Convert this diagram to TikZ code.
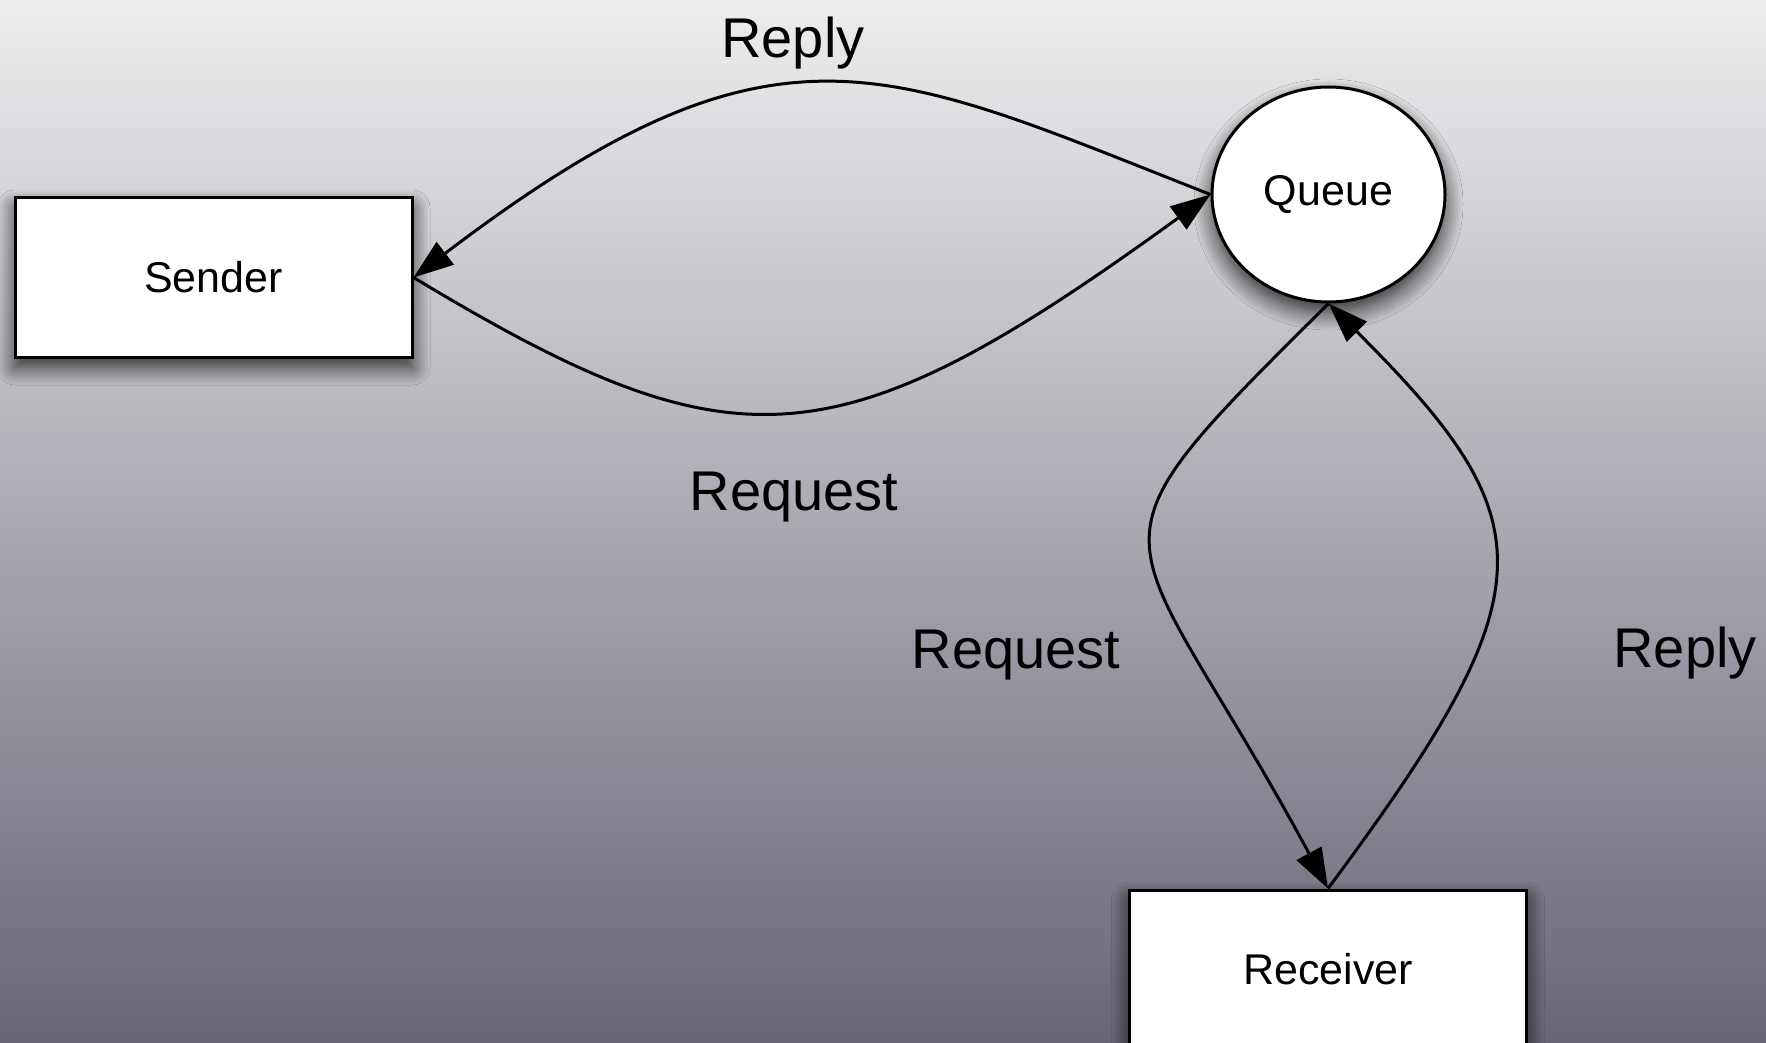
\documentclass[tikz,border=0pt]{standalone}
\usepackage{fontspec}
\setmainfont{Liberation Sans}
\usetikzlibrary{arrows.meta,shapes.geometric,shadows.blur}
\definecolor{bgtop}{RGB}{237,237,239}
\definecolor{bgbot}{RGB}{103,102,117}
\tikzset{
  nshadow/.style={blur shadow={shadow xshift=0pt, shadow yshift=-5pt, shadow blur radius=9pt, shadow blur steps=12, shadow opacity=80}},
  boxnode/.style={draw=black, line width=1.5pt, fill=white, rectangle,
    minimum width=198.5pt, minimum height=79.5pt, inner sep=0pt,
    font=\fontsize{21.5}{24}\selectfont, nshadow},
  qnode/.style={draw=black, line width=1.5pt, fill=white, ellipse,
    minimum width=116.5pt, minimum height=107.5pt, inner sep=0pt,
    font=\fontsize{21.5}{24}\selectfont, nshadow},
  lbl/.style={anchor=base, inner sep=0pt, font=\fontsize{28}{32}\selectfont},
  flow/.style={line width=1.5pt, -{Triangle[length=20pt,width=14pt]}},
}
\begin{document}
\begin{tikzpicture}[x=0.5pt, y=-0.5pt]
\useasboundingbox (0,0) rectangle (1766,1043);
\clip (0,0) rectangle (1766,1043);
\shade[top color=bgtop, bottom color=bgbot] (0,0) rectangle (1766,1043);

\node[boxnode] (sender) at (213.5,277.5) {Sender};
\node[qnode] (queue) at (1328.5,194.5) {Queue};
\node[boxnode] (receiver) at (1328,969.5) {Receiver};

% Reply: queue -> sender (top)
\draw[flow] (queue.west) .. controls (885,67) and (778,0) .. (sender.east);
% Request: sender -> queue (bottom)
\draw[flow] (sender.east) .. controls (735,471) and (835,467) .. (queue.west);
% Request: queue -> receiver (left)
\draw[flow] (queue.south) .. controls (1063,567) and (1123,509) .. (receiver.north);
% Reply: receiver -> queue (right)
\draw[flow] (receiver.north) .. controls (1550,590) and (1548,522) .. (queue.south);

\node[lbl] (l1) at (793,58) {Reply};
\node[lbl] (l2) at (794,510) {Request};
\node[lbl] (l3) at (1016,668) {Request};
\node[lbl] (l4) at (1685,667) {Reply};
\end{tikzpicture}
\end{document}
